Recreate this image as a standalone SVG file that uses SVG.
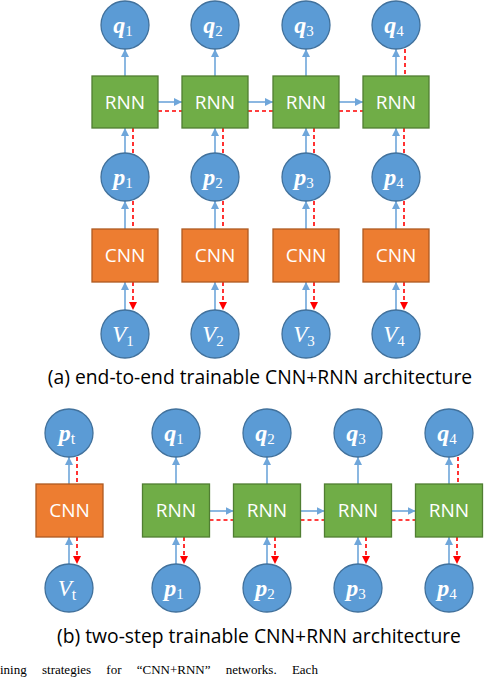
<svg xmlns="http://www.w3.org/2000/svg" width="486" height="678" viewBox="0 0 486 678">
<defs>
<style>
.c{fill:#5B9BD5;stroke:#41719C;stroke-width:1.3}
.rnn{fill:#70AD47;stroke:#507E32;stroke-width:1.3}
.cnn{fill:#ED7D31;stroke:#AE5A21;stroke-width:1.3}
.bt{fill:#fff;font-family:"Open Sans","Liberation Sans",sans-serif;font-size:19px;text-anchor:middle}
.m{fill:#fff;font-family:"Liberation Serif","DejaVu Serif",serif;font-size:24px;font-weight:bold;font-style:italic;text-anchor:middle}
.mv{fill:#fff;font-family:"Liberation Serif","DejaVu Serif",serif;font-size:23px;font-style:italic;text-anchor:middle}
.s{font-size:15px;font-weight:normal;font-style:normal}
.st{font-size:16px}
.cap{fill:#000;font-family:"Open Sans","Liberation Sans",sans-serif;font-size:19.3px;text-anchor:middle}
.b{stroke:#6FA6DA;stroke-width:1.6;fill:none}
.ba{stroke:#6FA6DA;stroke-width:1.6;fill:none;marker-end:url(#ab)}
.r{stroke:#FF0000;stroke-width:1.6;fill:none;stroke-dasharray:4 3}
.ra{stroke:#FF0000;stroke-width:1.6;fill:none;stroke-dasharray:4 3;marker-end:url(#ar)}
</style>
<marker id="ab" viewBox="0 0 10 10" refX="10" refY="5" markerWidth="5" markerHeight="5" orient="auto" markerUnits="strokeWidth"><path d="M0,0 L10,5 L0,10 z" fill="#6FA6DA"/></marker>
<marker id="ar" viewBox="0 0 10 10" refX="10" refY="5" markerWidth="5" markerHeight="5" orient="auto" markerUnits="strokeWidth"><path d="M0,0 L10,5 L0,10 z" fill="#FF0000"/></marker>
</defs>
<rect width="486" height="678" fill="#fff"/>

<g id="connectors">
<line class="ba" x1="125" y1="76" x2="125" y2="49"/>
<line class="ba" x1="215" y1="76" x2="215" y2="49"/>
<line class="ba" x1="306" y1="76" x2="306" y2="49"/>
<line class="ba" x1="396" y1="76" x2="396" y2="49"/>
<line class="r" x1="405" y1="49" x2="405" y2="76"/>
<line class="ba" x1="158" y1="102" x2="182" y2="102"/>
<line class="ba" x1="248" y1="102" x2="273" y2="102"/>
<line class="ba" x1="339" y1="102" x2="363" y2="102"/>
<line class="r" x1="158" y1="111" x2="182" y2="111"/>
<line class="r" x1="248" y1="111" x2="273" y2="111"/>
<line class="r" x1="339" y1="111" x2="363" y2="111"/>
<line class="ba" x1="125" y1="153" x2="125" y2="128"/>
<line class="ba" x1="215" y1="153" x2="215" y2="128"/>
<line class="ba" x1="306" y1="153" x2="306" y2="128"/>
<line class="ba" x1="396" y1="153" x2="396" y2="128"/>
<line class="r" x1="133" y1="128" x2="133" y2="153"/>
<line class="r" x1="223" y1="128" x2="223" y2="153"/>
<line class="r" x1="314" y1="128" x2="314" y2="153"/>
<line class="r" x1="404" y1="128" x2="404" y2="153"/>
<line class="ba" x1="125" y1="229" x2="125" y2="201"/>
<line class="ba" x1="215" y1="229" x2="215" y2="201"/>
<line class="ba" x1="306" y1="229" x2="306" y2="201"/>
<line class="ba" x1="396" y1="229" x2="396" y2="201"/>
<line class="r" x1="133" y1="201" x2="133" y2="229"/>
<line class="r" x1="223" y1="201" x2="223" y2="229"/>
<line class="r" x1="314" y1="201" x2="314" y2="229"/>
<line class="r" x1="404" y1="201" x2="404" y2="229"/>
<line class="ba" x1="125" y1="310" x2="125" y2="282"/>
<line class="ba" x1="215" y1="310" x2="215" y2="282"/>
<line class="ba" x1="306" y1="310" x2="306" y2="282"/>
<line class="ba" x1="396" y1="310" x2="396" y2="282"/>
<line class="ra" x1="133" y1="282" x2="133" y2="310"/>
<line class="ra" x1="223" y1="282" x2="223" y2="310"/>
<line class="ra" x1="314" y1="282" x2="314" y2="310"/>
<line class="ra" x1="404" y1="282" x2="404" y2="310"/>
<line class="ba" x1="69" y1="484" x2="69" y2="457"/>
<line class="r" x1="77" y1="457" x2="77" y2="484"/>
<line class="ba" x1="69" y1="564" x2="69" y2="537"/>
<line class="ra" x1="77" y1="537" x2="77" y2="564"/>
<line class="ba" x1="176" y1="484" x2="176" y2="457"/>
<line class="ba" x1="267" y1="484" x2="267" y2="457"/>
<line class="ba" x1="358" y1="484" x2="358" y2="457"/>
<line class="ba" x1="449" y1="484" x2="449" y2="457"/>
<line class="r" x1="458" y1="457" x2="458" y2="484"/>
<line class="ba" x1="209.5" y1="511" x2="233.5" y2="511"/>
<line class="ba" x1="300.5" y1="511" x2="324.5" y2="511"/>
<line class="ba" x1="391.5" y1="511" x2="415.5" y2="511"/>
<line class="r" x1="209.5" y1="520" x2="233.5" y2="520"/>
<line class="r" x1="300.5" y1="520" x2="324.5" y2="520"/>
<line class="r" x1="391.5" y1="520" x2="415.5" y2="520"/>
<line class="ba" x1="176" y1="564" x2="176" y2="537"/>
<line class="ba" x1="267" y1="564" x2="267" y2="537"/>
<line class="ba" x1="358" y1="564" x2="358" y2="537"/>
<line class="ba" x1="449" y1="564" x2="449" y2="537"/>
<line class="ra" x1="184" y1="537" x2="184" y2="564"/>
<line class="ra" x1="275" y1="537" x2="275" y2="564"/>
<line class="ra" x1="366" y1="537" x2="366" y2="564"/>
<line class="ra" x1="457" y1="537" x2="457" y2="564"/>
</g>

<g id="a-q1"><circle class="c" cx="125" cy="25" r="24"/><text class="m" x="123" y="33">q<tspan class="s" dy="3">1</tspan></text></g>
<g id="a-q2"><circle class="c" cx="215" cy="25" r="24"/><text class="m" x="213" y="33">q<tspan class="s" dy="3">2</tspan></text></g>
<g id="a-q3"><circle class="c" cx="306" cy="25" r="24"/><text class="m" x="304" y="33">q<tspan class="s" dy="3">3</tspan></text></g>
<g id="a-q4"><circle class="c" cx="396" cy="25" r="24"/><text class="m" x="394" y="33">q<tspan class="s" dy="3">4</tspan></text></g>
<g id="a-rnn1"><rect class="rnn" x="92" y="76" width="66" height="52"/><text class="bt" x="125" y="109">RNN</text></g>
<g id="a-rnn2"><rect class="rnn" x="182" y="76" width="66" height="52"/><text class="bt" x="215" y="109">RNN</text></g>
<g id="a-rnn3"><rect class="rnn" x="273" y="76" width="66" height="52"/><text class="bt" x="306" y="109">RNN</text></g>
<g id="a-rnn4"><rect class="rnn" x="363" y="76" width="66" height="52"/><text class="bt" x="396" y="109">RNN</text></g>
<g id="a-p1"><circle class="c" cx="125" cy="177" r="24"/><text class="m" x="123" y="185">p<tspan class="s" dy="3">1</tspan></text></g>
<g id="a-p2"><circle class="c" cx="215" cy="177" r="24"/><text class="m" x="213" y="185">p<tspan class="s" dy="3">2</tspan></text></g>
<g id="a-p3"><circle class="c" cx="306" cy="177" r="24"/><text class="m" x="304" y="185">p<tspan class="s" dy="3">3</tspan></text></g>
<g id="a-p4"><circle class="c" cx="396" cy="177" r="24"/><text class="m" x="394" y="185">p<tspan class="s" dy="3">4</tspan></text></g>
<g id="a-cnn1"><rect class="cnn" x="92" y="229" width="66" height="53"/><text class="bt" x="125" y="262">CNN</text></g>
<g id="a-cnn2"><rect class="cnn" x="182" y="229" width="66" height="53"/><text class="bt" x="215" y="262">CNN</text></g>
<g id="a-cnn3"><rect class="cnn" x="273" y="229" width="66" height="53"/><text class="bt" x="306" y="262">CNN</text></g>
<g id="a-cnn4"><rect class="cnn" x="363" y="229" width="66" height="53"/><text class="bt" x="396" y="262">CNN</text></g>
<g id="a-v1"><circle class="c" cx="125" cy="334" r="24"/><text class="mv" x="123" y="342">V<tspan class="s" dy="4">1</tspan></text></g>
<g id="a-v2"><circle class="c" cx="215" cy="334" r="24"/><text class="mv" x="213" y="342">V<tspan class="s" dy="4">2</tspan></text></g>
<g id="a-v3"><circle class="c" cx="306" cy="334" r="24"/><text class="mv" x="304" y="342">V<tspan class="s" dy="4">3</tspan></text></g>
<g id="a-v4"><circle class="c" cx="396" cy="334" r="24"/><text class="mv" x="394" y="342">V<tspan class="s" dy="4">4</tspan></text></g>
<text class="cap" x="260" y="384">(a) end-to-end trainable CNN+RNN architecture</text>

<g id="b-pt"><circle class="c" cx="69" cy="433" r="24"/><text class="m" x="67" y="441">p<tspan class="s st" dy="3" font-weight="bold" font-style="italic">t</tspan></text></g>
<g id="b-cnn"><rect class="cnn" x="36" y="484" width="67" height="53"/><text class="bt" x="69.5" y="517">CNN</text></g>
<g id="b-vt"><circle class="c" cx="69" cy="588" r="24"/><text class="mv" x="67" y="596">V<tspan class="s st" dy="4" font-style="italic">t</tspan></text></g>
<g id="b-q1"><circle class="c" cx="176" cy="433" r="24"/><text class="m" x="174" y="441">q<tspan class="s" dy="3">1</tspan></text></g>
<g id="b-q2"><circle class="c" cx="267" cy="433" r="24"/><text class="m" x="265" y="441">q<tspan class="s" dy="3">2</tspan></text></g>
<g id="b-q3"><circle class="c" cx="358" cy="433" r="24"/><text class="m" x="356" y="441">q<tspan class="s" dy="3">3</tspan></text></g>
<g id="b-q4"><circle class="c" cx="449" cy="433" r="24"/><text class="m" x="447" y="441">q<tspan class="s" dy="3">4</tspan></text></g>
<g id="b-rnn1"><rect class="rnn" x="142.5" y="484" width="67" height="53"/><text class="bt" x="176" y="517">RNN</text></g>
<g id="b-rnn2"><rect class="rnn" x="233.5" y="484" width="67" height="53"/><text class="bt" x="267" y="517">RNN</text></g>
<g id="b-rnn3"><rect class="rnn" x="324.5" y="484" width="67" height="53"/><text class="bt" x="358" y="517">RNN</text></g>
<g id="b-rnn4"><rect class="rnn" x="415.5" y="484" width="67" height="53"/><text class="bt" x="449" y="517">RNN</text></g>
<g id="b-p1"><circle class="c" cx="176" cy="588" r="24"/><text class="m" x="174" y="596">p<tspan class="s" dy="3">1</tspan></text></g>
<g id="b-p2"><circle class="c" cx="267" cy="588" r="24"/><text class="m" x="265" y="596">p<tspan class="s" dy="3">2</tspan></text></g>
<g id="b-p3"><circle class="c" cx="358" cy="588" r="24"/><text class="m" x="356" y="596">p<tspan class="s" dy="3">3</tspan></text></g>
<g id="b-p4"><circle class="c" cx="449" cy="588" r="24"/><text class="m" x="447" y="596">p<tspan class="s" dy="3">4</tspan></text></g>
<text class="cap" x="259" y="643">(b) two-step trainable CNN+RNN architecture</text>

<text x="0" y="674" font-family="Liberation Serif, serif" font-size="13" fill="#000" word-spacing="12">ining strategies for “CNN+RNN” networks. Each</text>
</svg>
